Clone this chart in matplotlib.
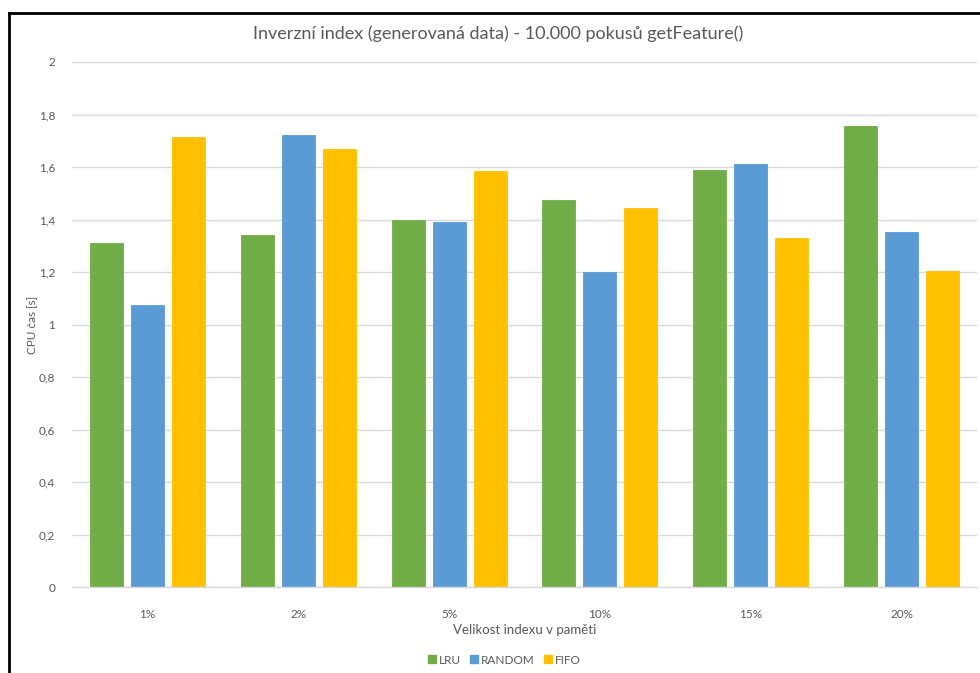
import matplotlib
matplotlib.use("Agg")
import matplotlib.pyplot as plt
import numpy as np
from matplotlib.lines import Line2D

categories = ["1%", "2%", "5%", "10%", "15%", "20%"]
series_names = ["LRU", "RANDOM", "FIFO"]
lru = [1.309, 1.340, 1.400, 1.476, 1.587, 1.757]
random_ = [1.074, 1.723, 1.392, 1.201, 1.612, 1.353]
fifo = [1.713, 1.667, 1.585, 1.444, 1.330, 1.205]
colors = ["#70AD47", "#5B9BD5", "#FFC000"]
yticks = [0, 0.2, 0.4, 0.6, 0.8, 1.0, 1.2, 1.4, 1.6, 1.8, 2.0]

title = "Inverzní index (generovaná data) - 10.000 pokusů getFeature()"
xlabel = "Velikost indexu v paměti"
ylabel = "CPU čas [s]"

plt.rcParams['font.family'] = ['Lato', 'DejaVu Sans']
W, H = 980, 673
fig = plt.figure(figsize=(W / 100, H / 100), dpi=100)
ax = fig.add_axes([72 / W, 1 - 587 / H, (977 - 72) / W, (587 - 62) / H])

x = np.arange(len(categories))
bw = 0.219
off = 0.272
for i, (vals, col, name) in enumerate(zip([lru, random_, fifo], colors, series_names)):
    ax.bar(x + (i - 1) * off, vals, width=bw, color=col, label=name, zorder=3,
           edgecolor=col, linewidth=0.6)

ax.set_xlim(-0.5, len(categories) - 0.5)
ax.set_ylim(0, 2)
ax.set_yticks(yticks)
ax.set_yticklabels([("%g" % v).replace(".", ",") for v in yticks])
ax.set_xticks(x)
ax.set_xticklabels(categories)
ax.grid(axis="y", color="#D9D9D9", linewidth=1, zorder=0)
for s in ["top", "right", "left"]:
    ax.spines[s].set_visible(False)
ax.spines["bottom"].set_color("#D9D9D9")
ax.spines["bottom"].set_linewidth(1)
ax.spines["bottom"].set_zorder(4)
ax.tick_params(axis="both", length=0, colors="#595959", labelsize=8.5)
ax.tick_params(axis="x", pad=16)
ax.tick_params(axis="y", pad=12)

ax.set_xlabel(xlabel, fontsize=9.5, color="#595959", labelpad=3)
fig.text(33 / W, 1 - 325 / H, ylabel, rotation=90, ha="center", va="center",
         fontsize=8.5, color="#595959")
fig.text(498 / W, 1 - 34 / H, title, ha="center", va="center",
         fontsize=13, color="#595959")

handles = [Line2D([], [], marker="s", linestyle="", markersize=5.5, color=c) for c in colors]
fig.legend(handles, series_names, loc="center", bbox_to_anchor=(503 / W, 1 - 660 / H),
           ncol=3, frameon=False, fontsize=8.5, labelcolor="#595959",
           handletextpad=0.0, columnspacing=0.5, handlelength=1.2)

# border of the original chart frame (cropped)
fig.add_artist(Line2D([9 / W, 9 / W], [0, 1 - 13 / H], color="black", linewidth=2,
                      transform=fig.transFigure))
fig.add_artist(Line2D([9 / W, 1], [1 - 13 / H, 1 - 13 / H], color="black", linewidth=2,
                      transform=fig.transFigure))

fig.savefig("out.png", dpi=100)
